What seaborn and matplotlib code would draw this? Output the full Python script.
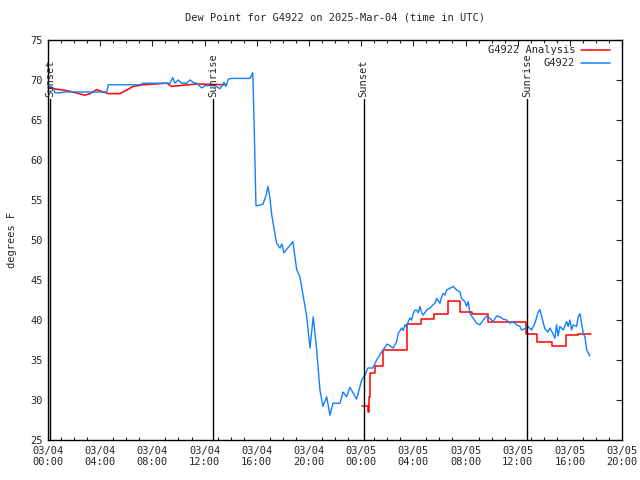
import pandas as pd
import seaborn as sns
import matplotlib.pyplot as plt
import matplotlib.dates as mdates
import numpy as np

# observed dew point (hours after 03/04 00:00 UTC, deg F)
obs_hours = [0.02, 0.15, 0.41, 0.54, 0.92, 1.30, 2.97, 4.50, 4.62, 7.05, 7.30, 9.35, 9.56, 9.73,
             9.98, 10.25, 10.63, 10.88, 11.13, 11.39, 11.78, 12.03, 12.41, 12.80, 13.18, 13.49,
             13.64, 13.82, 14.08, 15.48, 15.69, 15.71, 15.79, 15.86, 15.94, 16.09, 16.48, 16.70,
             16.86, 17.01, 17.16, 17.52, 17.78, 17.93, 18.08, 18.77, 19.06, 19.31, 19.83, 20.08,
             20.33, 20.59, 20.84, 21.07, 21.36, 21.61, 21.84, 22.38, 22.61, 22.89, 23.14, 23.65,
             24.04, 24.29, 24.52, 24.90, 25.19, 25.57, 26.00, 26.46, 26.59, 26.72, 26.84, 27.10,
             27.23, 27.36, 27.49, 27.61, 27.74, 27.87, 27.99, 28.12, 28.25, 28.38, 28.51, 28.64,
             28.76, 29.02, 29.27, 29.52, 29.66, 29.79, 30.04, 30.17, 30.29, 30.42, 30.55, 30.80,
             31.06, 31.32, 31.57, 31.70, 31.95, 32.08, 32.21, 32.34, 32.59, 32.85, 33.10, 33.36,
             33.62, 33.87, 34.12, 34.38, 34.64, 34.89, 35.15, 35.40, 35.66, 35.91, 36.17, 36.30,
             36.55, 36.80, 37.06, 37.32, 37.57, 37.70,
             38.08, 38.31, 38.47, 38.70, 38.85, 38.98, 39.10, 39.23, 39.49, 39.75, 39.87, 40.00,
             40.13, 40.25, 40.51, 40.64, 40.77, 40.90, 41.02, 41.15, 41.28, 41.53]
obs_dewpt = [68.8, 69.2, 69.0, 68.4, 68.4, 68.5, 68.5, 68.5, 69.4, 69.4, 69.6, 69.6, 70.3, 69.6,
             70.0, 69.6, 69.6, 70.0, 69.7, 69.6, 69.0, 69.3, 69.3, 69.3, 68.9, 69.7,
             69.2, 70.1, 70.2, 70.2, 70.9, 70.0, 65.0, 60.0, 54.3, 54.3, 54.5, 55.5,
             56.7, 55.2, 53.0, 49.6, 49.0, 49.5, 48.4, 49.8, 46.3, 45.4, 40.4, 36.5,
             40.4, 36.3, 31.3, 29.2, 30.4, 28.1, 29.6, 29.6, 31.0, 30.4, 31.6, 30.1,
             32.5, 33.1, 34.0, 34.0, 35.0, 36.0, 37.0, 36.5, 36.9, 37.3, 38.3, 39.0,
             38.7, 39.4, 39.1, 39.8, 40.25, 40.0, 40.8, 41.2, 41.25, 40.9, 41.7, 40.9,
             40.6, 41.25, 41.5, 41.9, 42.1, 42.7, 42.1, 42.9, 43.3, 43.1, 43.75, 43.96,
             44.2, 43.75, 43.5, 42.7, 42.3, 41.7, 42.3, 40.8, 40.2, 39.6, 39.4, 40.0,
             40.5, 40.2, 39.8, 40.5, 40.4, 40.1, 40.0, 39.6, 39.8, 39.4, 39.2, 38.75,
             38.9, 39.2, 38.75, 39.6, 41.0, 41.3,
             38.9, 38.5, 39.0, 38.3, 37.7, 39.4, 38.0, 39.2, 38.75, 39.8, 39.2, 40.0,
             38.75, 39.4, 39.2, 40.4, 40.8, 39.6, 38.3, 37.9, 36.3, 35.5]

# analysis, first day (smooth) and second day (hourly steps)
ana1_hours = [0.02, 0.92, 1.69, 2.45, 2.84, 3.22, 3.73, 4.24, 4.62, 5.52, 6.03, 6.54, 7.30,
              9.10, 9.48, 11.39, 13.69]
ana1_dewpt = [69.0, 68.8, 68.6, 68.25, 68.1, 68.3, 68.8, 68.5, 68.3, 68.3, 68.75, 69.2, 69.4,
              69.6, 69.2, 69.5, 69.4]
ana2_hours = [24.04, 24.42, 24.52, 24.62, 24.67, 25.06, 25.67, 26.50, 27.55, 28.60, 29.60,
              30.63, 31.60, 32.50, 33.69, 36.63, 37.50, 38.60, 39.67, 40.60, 41.60]
ana2_dewpt = [29.25, 29.25, 28.5, 30.4, 33.4, 34.25, 36.2, 36.3, 39.5, 40.1, 40.8,
              42.4, 41.0, 40.7, 39.7, 38.25, 37.2, 36.75, 38.1, 38.3, 38.3]

sun_hours = [0.15, 12.64, 24.20, 36.70]
sun_labels = ['Sunset', 'Sunrise', 'Sunset', 'Sunrise']

t0 = pd.Timestamp('2025-03-04 00:00')
def to_time(h):
    return t0 + pd.to_timedelta(np.array(h), unit='h')

obs = pd.DataFrame({'time': to_time(obs_hours), 'dewpt': obs_dewpt})
ana1 = pd.DataFrame({'time': to_time(ana1_hours), 'dewpt': ana1_dewpt})
ana2 = pd.DataFrame({'time': to_time(ana2_hours), 'dewpt': ana2_dewpt})

sns.set_style('white')
plt.rcParams['font.family'] = ['DejaVu Sans Mono']
plt.rcParams['font.size'] = 7.5

red = '#ff0000'
blue = '#1080ff'

fig = plt.figure(figsize=(6.4, 4.8), dpi=100)
ax = fig.add_axes([0.075, 0.0833, 0.897, 0.8334])

sns.lineplot(data=ana1, x='time', y='dewpt', color=red, lw=1.1, ax=ax, sort=False, estimator=None)
sns.lineplot(data=ana2, x='time', y='dewpt', color=red, lw=1.1, ax=ax, sort=False, estimator=None,
             drawstyle='steps-post')
sns.lineplot(data=obs, x='time', y='dewpt', color=blue, lw=1.0, ax=ax, sort=False, estimator=None)

for h, lab in zip(to_time(sun_hours), sun_labels):
    ax.plot([h, h], [25, 67.6], color='black', lw=1)
    ax.text(h, 67.9, lab, rotation=90, ha='center', va='bottom', fontsize=7.5)

ax.set_xlim(t0, t0 + pd.Timedelta(hours=44))
ax.set_ylim(25, 75)
ax.set_yticks(range(25, 76, 5))
ax.xaxis.set_major_locator(mdates.HourLocator(interval=4))
ax.xaxis.set_minor_locator(mdates.HourLocator())
ax.xaxis.set_major_formatter(mdates.DateFormatter('%m/%d\n%H:%M'))
ax.tick_params(axis='both', which='major', direction='in', length=4, width=0.8,
               top=True, right=True, labelsize=7.5, pad=4)
ax.tick_params(axis='x', which='minor', direction='in', length=2.2, width=0.8, top=True, bottom=True)
for s in ax.spines.values():
    s.set_color('black')
    s.set_linewidth(1)

ax.set_xlabel('')
ax.set_ylabel('degrees F', fontsize=7.5, labelpad=9)
ax.set_title('Dew Point for G4922 on 2025-Mar-04 (time in UTC)', fontsize=7.5, pad=14)

# key in the top right corner
for yy, lab, c in [(0.975, 'G4922 Analysis', red), (0.9425, 'G4922', blue)]:
    ax.text(0.918, yy, lab, transform=ax.transAxes, ha='right', va='center', fontsize=7.5)
    ax.plot([0.929, 0.979], [yy, yy], color=c, lw=1.1, transform=ax.transAxes)

fig.savefig('out.png', dpi=100)
